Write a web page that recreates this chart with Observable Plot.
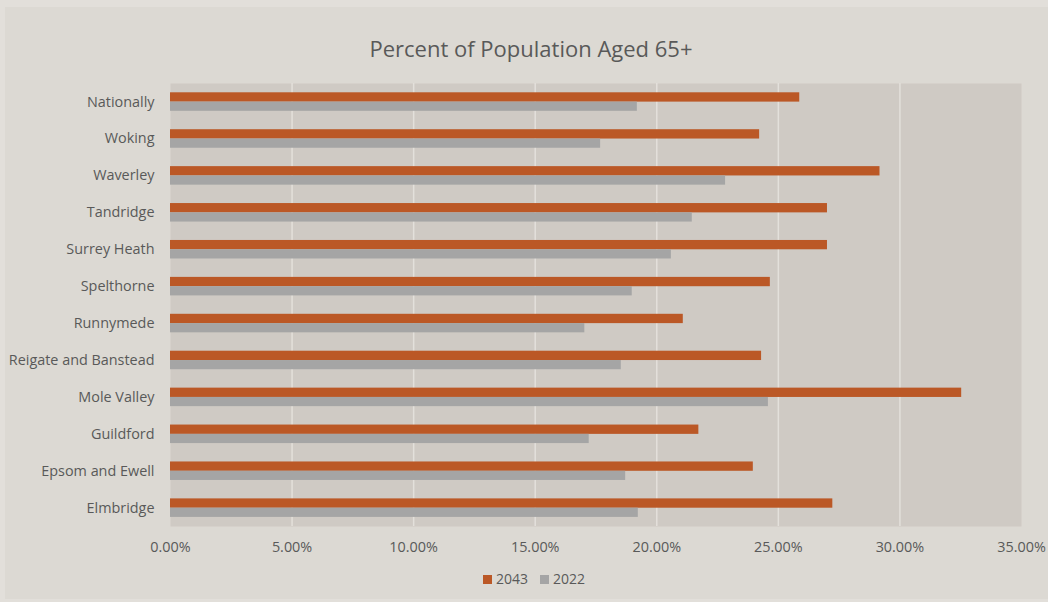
<!DOCTYPE html>
<html>
<head>
<meta charset="utf-8">
<script src="https://cdn.jsdelivr.net/npm/d3@7"></script>
<script src="https://cdn.jsdelivr.net/npm/@observablehq/plot@0.6"></script>
<style>
  html, body { margin: 0; padding: 0; background: #e2dfda; width: 1048px; height: 602px; overflow: hidden; }
  body { position: relative; font-family: "Open Sans", sans-serif; color: #595959; }
  #panel { position: absolute; left: 5px; top: 7px; width: 1043px; height: 592px; background: #dcd9d3; }
  #title { position: absolute; left: 14px; width: 1034px; top: 35px; text-align: center; font-size: 22px; line-height: 26px; color: #595959; }
  #chart { position: absolute; left: 0; top: 70px; }
  #legend { position: absolute; left: 0; width: 1068px; top: 569px; display: flex; justify-content: center; align-items: center; font-size: 14px; line-height: 20px; color: #595959; }
  .item { display: flex; align-items: center; margin: 0 6px; }
  .sw { width: 9px; height: 9px; margin-right: 4px; }
</style>
</head>
<body>
<div id="panel"></div>
<div id="title">Percent of Population Aged 65+</div>
<div id="chart"></div>
<div id="legend"></div>
<script>
const categories = ["Nationally","Woking","Waverley","Tandridge","Surrey Heath","Spelthorne","Runnymede","Reigate and Banstead","Mole Valley","Guildford","Epsom and Ewell","Elmbridge"];
const values2043 = [25.88,24.23,29.18,27.02,27.02,24.67,21.09,24.31,32.54,21.73,23.97,27.24];
const values2022 = [19.20,17.69,22.83,21.46,20.60,18.99,17.04,18.54,24.59,17.22,18.72,19.24];
const seriesNames = ["2043","2022"];
const seriesColors = ["#bb5826","#a5a5a5"];
const xTicks = [0,5,10,15,20,25,30,35];

const rows = categories.map((c, i) => ({category: c, v2043: values2043[i], v2022: values2022[i]}));
const fmt = d => d.toFixed(2) + "%";

const chart = Plot.plot({
  width: 1048,
  height: 490,
  marginLeft: 170,
  marginRight: 27,
  marginTop: 13,
  marginBottom: 34,
  style: {background: "transparent", fontFamily: "Open Sans", fontSize: "14.4px", color: "#595959", overflow: "visible"},
  x: {domain: [0, 35], label: null},
  y: {domain: categories, padding: 0, round: false, label: null},
  marks: [
    Plot.frame({fill: "#cfcac4", stroke: "none"}),
    Plot.gridX(xTicks.filter(t => t > 0 && t < 35), {stroke: "#e3e0db", strokeOpacity: 1, strokeWidth: 1.5}),
    Plot.barX(rows, {x: "v2043", y: "category", fill: seriesColors[0], insetTop: 9.3, insetBottom: 18.3}),
    Plot.barX(rows, {x: "v2022", y: "category", fill: seriesColors[1], insetTop: 18.6, insetBottom: 9.1}),
    Plot.axisX({ticks: xTicks, tickSize: 0, tickPadding: 15, tickFormat: fmt, label: null}),
    Plot.axisY({tickSize: 0, tickPadding: 16, label: null})
  ]
});
document.getElementById("chart").appendChild(chart);

const legend = document.getElementById("legend");
seriesNames.forEach((s, i) => {
  const it = document.createElement("div");
  it.className = "item";
  const sw = document.createElement("div");
  sw.className = "sw";
  sw.style.background = seriesColors[i];
  const tx = document.createElement("span");
  tx.textContent = s;
  it.appendChild(sw); it.appendChild(tx);
  legend.appendChild(it);
});
</script>
</body>
</html>
